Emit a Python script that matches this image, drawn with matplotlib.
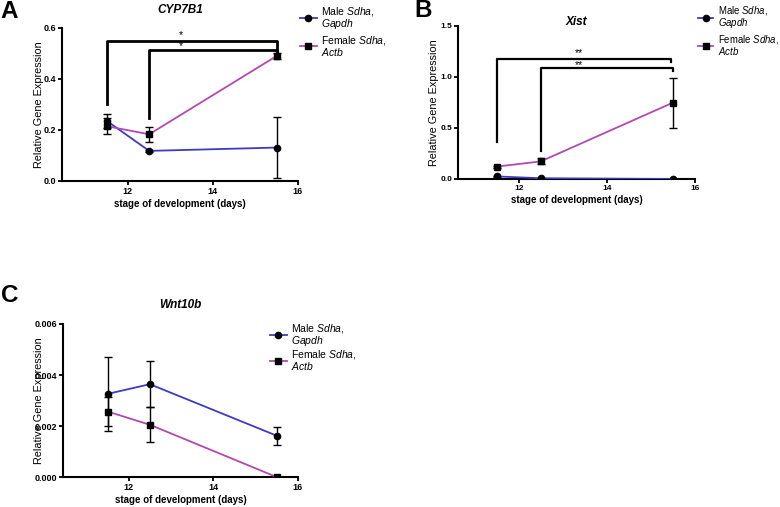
import numpy as np
import matplotlib
matplotlib.use("Agg")
import matplotlib.pyplot as plt
from matplotlib.lines import Line2D
from matplotlib.ticker import FormatStrFormatter

plt.rcParams["font.family"] = ["Liberation Sans", "DejaVu Sans"]
plt.rcParams["mathtext.fontset"] = "custom"
plt.rcParams["mathtext.it"] = "Liberation Sans:italic"
plt.rcParams["mathtext.rm"] = "Liberation Sans"

# stage of development (days)
days = [11.5, 12.5, 15.5]

# panel A - CYP7B1
cyp_male = [0.236, 0.118, 0.131]
cyp_male_err = [0.028, 0.003, 0.118]
cyp_female = [0.215, 0.183, 0.490]
cyp_female_err = [0.032, 0.030, 0.012]

# panel B - Xist
xist_male = [0.025, 0.007, 0.0]
xist_male_err = [0.003, 0.002, 0.0]
xist_female = [0.121, 0.172, 0.748]
xist_female_err = [0.010, 0.030, 0.245]

# panel C - Wnt10b
wnt_male = [0.00326, 0.00364, 0.00162]
wnt_male_err = [0.00145, 0.00090, 0.00035]
wnt_female = [0.00257, 0.00205, 0.0]
wnt_female_err = [0.00058, 0.00068, 0.0]

male_label = "Male $\\it{Sdha}$,\n$\\it{Gapdh}$"
female_label = "Female $\\it{Sdha}$,\n$\\it{Actb}$"
blue = "#3b3bc4"
purple = "#b348b3"

fig = plt.figure(figsize=(7.8, 5.07), dpi=100)


def panel(rect, male, male_err, female, female_err, title, title_dy,
          ylim, yticks, fmt, xlim, ylab_x, ticksize=6.5):
    ax = fig.add_axes(rect)
    ax.errorbar(days, male, yerr=male_err, color=blue, lw=1.3,
                marker="o", ms=4.5, mfc="black", mec="black",
                ecolor="black", elinewidth=1.0, capsize=3, capthick=1.0,
                zorder=3)
    ax.errorbar(days, female, yerr=female_err, color=purple, lw=1.3,
                marker="s", ms=4.5, mfc="black", mec="black",
                ecolor="black", elinewidth=1.0, capsize=3, capthick=1.0,
                zorder=3)
    ax.set_xlim(*xlim)
    ax.set_ylim(*ylim)
    ax.set_xticks([12, 14, 16])
    ax.set_yticks(yticks)
    ax.yaxis.set_major_formatter(FormatStrFormatter(fmt))
    for s in ["top", "right"]:
        ax.spines[s].set_visible(False)
    for s in ["left", "bottom"]:
        ax.spines[s].set_linewidth(1.5)
    ax.tick_params(length=3, width=1.3, labelsize=ticksize, pad=1)
    for t in ax.get_xticklabels() + ax.get_yticklabels():
        t.set_fontweight("bold")
    ax.set_ylabel("Relative Gene Expression", fontsize=7.8)
    ax.yaxis.set_label_coords(ylab_x, 0.5)
    ax.set_xlabel("stage of development (days)", fontsize=7, fontweight="bold",
                  labelpad=2.5)
    ax.text(0.5, 1 + title_dy, title, transform=ax.transAxes, ha="center",
            va="center", fontsize=8.5, fontweight="bold", style="italic")
    return ax


def legend(ax, x, y, spacing, size=7.5):
    handles = [
        Line2D([], [], color=blue, lw=1.3, marker="o", ms=4.5,
               mfc="black", mec="black"),
        Line2D([], [], color=purple, lw=1.3, marker="s", ms=4.5,
               mfc="black", mec="black"),
    ]
    leg = ax.legend(handles, [male_label, female_label], loc="upper left",
                    bbox_to_anchor=(x / 780, 1 - y / 507),
                    bbox_transform=fig.transFigure, frameon=False,
                    fontsize=size, handlelength=1.6, handletextpad=0.45,
                    labelspacing=spacing, borderpad=0, borderaxespad=0)
    for t in leg.get_texts():
        t.set_linespacing(0.9)
    return leg


axA = panel([0.0795, 0.643, 0.3025, 0.302], cyp_male, cyp_male_err,
            cyp_female, cyp_female_err, "CYP7B1", 0.118,
            (0, 0.6), [0.0, 0.2, 0.4, 0.6], "%.1f", (10.45, 16), -0.076)
axA.plot([11.5, 11.5, 15.5, 15.5], [0.30, 0.55, 0.55, 0.515], color="black",
         lw=2)
axA.plot([12.5, 12.5, 15.5, 15.5], [0.246, 0.512, 0.512, 0.505],
         color="black", lw=2)
axA.text(13.25, 0.573, "*", ha="center", va="center", fontsize=7.5)
axA.text(13.25, 0.527, "*", ha="center", va="center", fontsize=7.5)
legend(axA, 300, 5, 0.3)

axB = panel([0.587, 0.647, 0.304, 0.302], xist_male, xist_male_err,
            xist_female, xist_female_err, "Xist", 0.026,
            (0, 1.5), [0.0, 0.5, 1.0, 1.5], "%.1f", (10.62, 16), -0.078,
            ticksize=6)
axB.plot([11.5, 11.5, 15.45, 15.45], [0.36, 1.18, 1.18, 1.15], color="black",
         lw=1.6)
axB.plot([12.5, 12.5, 15.5, 15.5], [0.27, 1.085, 1.085, 1.06],
         color="black", lw=1.6)
axB.text(13.36, 1.235, "**", ha="center", va="center", fontsize=7.5)
axB.text(13.36, 1.118, "**", ha="center", va="center", fontsize=7.5)
legend(axB, 698, 4, 0.3, size=6.9)

axC = panel([0.081, 0.059, 0.301, 0.302], wnt_male, wnt_male_err,
            wnt_female, wnt_female_err, "Wnt10b", 0.124,
            (0, 0.006), [0.0, 0.002, 0.004, 0.006], "%.3f", (10.45, 16),
            -0.081)
legend(axC, 270, 322, 0.02)

# panel letters
fig.text(0.0, 0.9645, "A", fontsize=17.5, fontweight="bold", va="baseline")
fig.text(0.531, 0.966, "B", fontsize=17.5, fontweight="bold", va="baseline")
fig.text(0.001, 0.404, "C", fontsize=17.5, fontweight="bold", va="baseline")

fig.savefig("out.png", dpi=100)
